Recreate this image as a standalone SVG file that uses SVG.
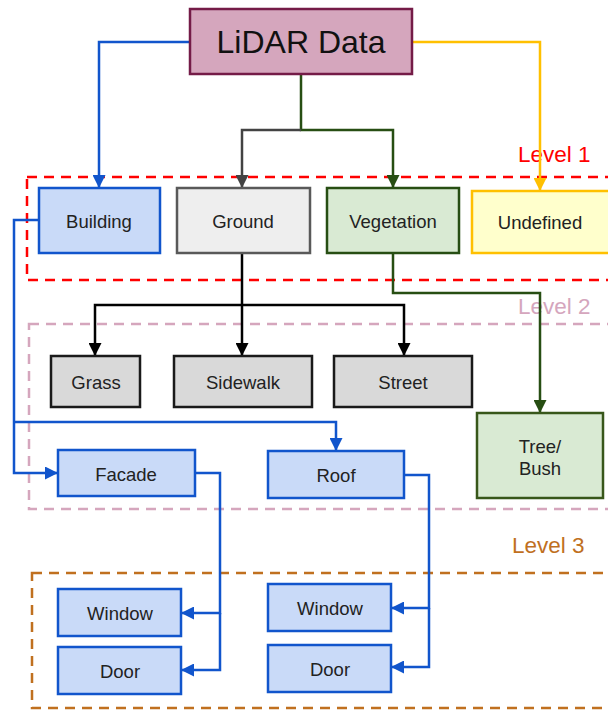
<svg xmlns="http://www.w3.org/2000/svg" width="608" height="711" viewBox="0 0 608 711">
  <style>
    text { font-family: "Liberation Sans", Arial, sans-serif; font-size: 18.5px; fill: #222; text-anchor: middle; dominant-baseline: central; }
    .node rect { stroke-width: 2.5; }
    .blue rect { fill: #c9daf8; stroke: #1155cc; }
    .gray rect { fill: #d9d9d9; stroke: #1a1a1a; }
    .lvl { fill: none; stroke-width: 2.5; stroke-dasharray: 10 7; }
    .lvltxt { font-size: 22.5px; text-anchor: start; dominant-baseline: alphabetic; }
    .conn path { fill: none; stroke-width: 2.5; }
  </style>
  <defs>
    <marker id="ah-blue" viewBox="0 0 12 12" refX="12" refY="6" markerWidth="13" markerHeight="13" markerUnits="userSpaceOnUse" orient="auto"><path d="M0,0 L12,6 L0,12 z" fill="#1155cc"/></marker>
    <marker id="ah-yellow" viewBox="0 0 12 12" refX="12" refY="6" markerWidth="13" markerHeight="13" markerUnits="userSpaceOnUse" orient="auto"><path d="M0,0 L12,6 L0,12 z" fill="#ffc000"/></marker>
    <marker id="ah-green" viewBox="0 0 12 12" refX="12" refY="6" markerWidth="13" markerHeight="13" markerUnits="userSpaceOnUse" orient="auto"><path d="M0,0 L12,6 L0,12 z" fill="#274e13"/></marker>
    <marker id="ah-gray" viewBox="0 0 12 12" refX="12" refY="6" markerWidth="13" markerHeight="13" markerUnits="userSpaceOnUse" orient="auto"><path d="M0,0 L12,6 L0,12 z" fill="#434343"/></marker>
    <marker id="ah-black" viewBox="0 0 12 12" refX="12" refY="6" markerWidth="13" markerHeight="13" markerUnits="userSpaceOnUse" orient="auto"><path d="M0,0 L12,6 L0,12 z" fill="#000"/></marker>
  </defs>

  <!-- level frames -->
  <g id="levels">
    <rect class="lvl" x="27" y="177" width="600" height="103" stroke="#ff0000"/>
    <text class="lvltxt" x="518" y="162" style="fill:#ff0000">Level 1</text>
    <rect class="lvl" x="29" y="324" width="600" height="185" stroke="#d5a6bd"/>
    <text class="lvltxt" x="518" y="314" style="fill:#d5a6bd">Level 2</text>
    <rect class="lvl" x="32" y="573" width="600" height="135" stroke="#c0701f"/>
    <text class="lvltxt" x="512" y="553" style="fill:#c0701f">Level 3</text>
  </g>

  <!-- connectors -->
  <g id="connectors" class="conn">
    <path d="M190,42 H99 V188" stroke="#1155cc" marker-end="url(#ah-blue)"/>
    <path d="M412,42 H540 V191" stroke="#ffc000" marker-end="url(#ah-yellow)"/>
    <path d="M301,74 V130 H393 V188" stroke="#274e13" marker-end="url(#ah-green)"/>
    <path d="M301,130 H242 V188" stroke="#434343" marker-end="url(#ah-gray)"/>
    <path d="M242,253 V356" stroke="#000" marker-end="url(#ah-black)"/>
    <path d="M242,305 H95 V356" stroke="#000" marker-end="url(#ah-black)"/>
    <path d="M242,305 H404 V356" stroke="#000" marker-end="url(#ah-black)"/>
    <path d="M393,253 V293 H540 V413" stroke="#274e13" marker-end="url(#ah-green)"/>
    <path d="M39,220 H14 V473 H58" stroke="#1155cc" marker-end="url(#ah-blue)"/>
    <path d="M14,422 H336 V451" stroke="#1155cc" marker-end="url(#ah-blue)"/>
    <path d="M195,473 H220 V613 H181" stroke="#1155cc" marker-end="url(#ah-blue)"/>
    <path d="M220,613 V670 H181" stroke="#1155cc" marker-end="url(#ah-blue)"/>
    <path d="M404,475 H429 V608 H391" stroke="#1155cc" marker-end="url(#ah-blue)"/>
    <path d="M429,608 V667 H391" stroke="#1155cc" marker-end="url(#ah-blue)"/>
  </g>

  <!-- nodes -->
  <g id="lidar" class="node"><rect x="190" y="9" width="222" height="65" fill="#d5a6bd" stroke="#741b47"/><text x="301" y="42" style="font-size:32px;fill:#111">LiDAR Data</text></g>

  <g id="building" class="node blue"><rect x="39" y="188" width="121" height="65"/><text x="99" y="221">Building</text></g>
  <g id="ground" class="node"><rect x="177" y="188" width="133" height="65" fill="#eeeeee" stroke="#595959"/><text x="243" y="221">Ground</text></g>
  <g id="vegetation" class="node"><rect x="327" y="188" width="132" height="65" fill="#d9ead3" stroke="#274e13"/><text x="393" y="221">Vegetation</text></g>
  <g id="undefined" class="node"><rect x="472" y="191" width="140" height="62" fill="#ffffcc" stroke="#ffc000"/><text x="540" y="222">Undefined</text></g>

  <g id="grass" class="node gray"><rect x="51" y="356" width="89" height="51"/><text x="96" y="382">Grass</text></g>
  <g id="sidewalk" class="node gray"><rect x="174" y="356" width="138" height="51"/><text x="243" y="382">Sidewalk</text></g>
  <g id="street" class="node gray"><rect x="334" y="356" width="138" height="51"/><text x="403" y="382">Street</text></g>
  <g id="tree" class="node"><rect x="477" y="413" width="126" height="85" fill="#d9ead3" stroke="#38571a"/><text x="540" y="446">Tree/</text><text x="540" y="468">Bush</text></g>

  <g id="facade" class="node blue"><rect x="58" y="450" width="137" height="46"/><text x="126" y="474">Facade</text></g>
  <g id="roof" class="node blue"><rect x="268" y="451" width="136" height="47"/><text x="336" y="475">Roof</text></g>

  <g id="window1" class="node blue"><rect x="58" y="589" width="123" height="47"/><text x="120" y="613">Window</text></g>
  <g id="door1" class="node blue"><rect x="58" y="647" width="123" height="47"/><text x="120" y="671">Door</text></g>
  <g id="window2" class="node blue"><rect x="268" y="584" width="123" height="47"/><text x="330" y="608">Window</text></g>
  <g id="door2" class="node blue"><rect x="268" y="645" width="123" height="47"/><text x="330" y="669">Door</text></g>
</svg>
